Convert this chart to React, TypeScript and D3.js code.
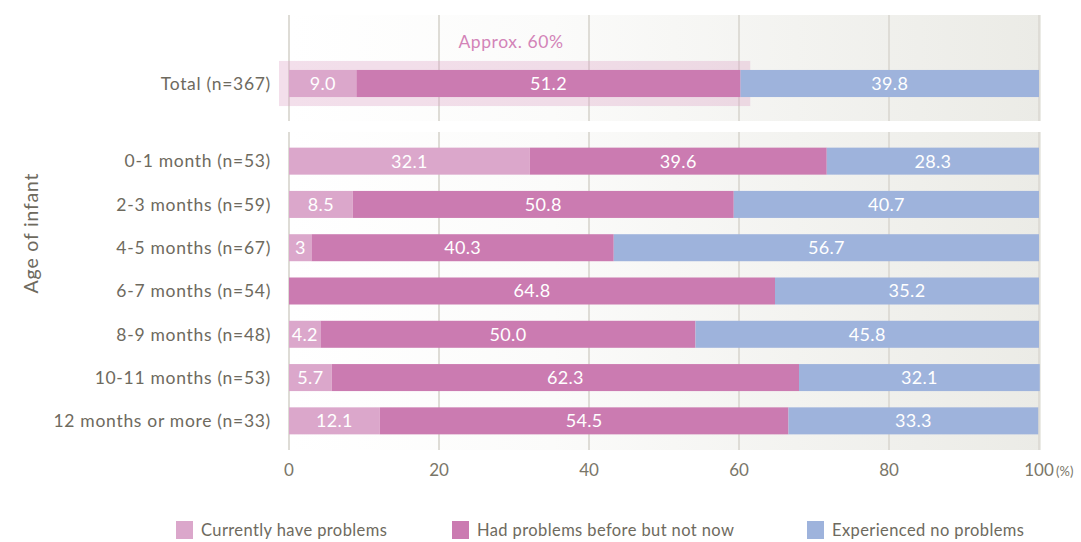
import React from "react";
import * as d3 from "d3";

const totalCategory = "Total (n=367)";
const ageCategories = [
  "0-1 month (n=53)",
  "2-3 months (n=59)",
  "4-5 months (n=67)",
  "6-7 months (n=54)",
  "8-9 months (n=48)",
  "10-11 months (n=53)",
  "12 months or more (n=33)",
];
const seriesNames = ["Currently have problems", "Had problems before but not now", "Experienced no problems"];
const totalValues = [9.0, 51.2, 39.8];
const totalLabels = ["9.0", "51.2", "39.8"];
const currentValues = [32.1, 8.5, 3, 0, 4.2, 5.7, 12.1];
const currentLabels = ["32.1", "8.5", "3", "", "4.2", "5.7", "12.1"];
const beforeValues = [39.6, 50.8, 40.3, 64.8, 50.0, 62.3, 54.5];
const beforeLabels = ["39.6", "50.8", "40.3", "64.8", "50.0", "62.3", "54.5"];
const noneValues = [28.3, 40.7, 56.7, 35.2, 45.8, 32.1, 33.3];
const noneLabels = ["28.3", "40.7", "56.7", "35.2", "45.8", "32.1", "33.3"];
const xTicks = [0, 20, 40, 60, 80, 100];
const highlightValue = 61.5;
const highlightText = "Approx. 60%";

const COLORS = ["#dba7cb", "#cb7bb1", "#9eb3dc"];
const FONT = "Lato, 'Open Sans', sans-serif";

export default function App() {
  const W = 1081, H = 542;
  const x = d3.scaleLinear().domain([0, 100]).range([289, 1039]);
  const yTop = d3.scaleBand().domain([totalCategory]).range([61.3, 105.7]).paddingInner(0.39).paddingOuter(0.195);
  const yAge = d3.scaleBand().domain(ageCategories).range([139.5, 442.5]).paddingInner(0.376).paddingOuter(0.188);

  const rows = [
    { cat: totalCategory, vals: totalValues, labels: totalLabels, y: yTop(totalCategory)!, h: yTop.bandwidth() },
    ...ageCategories.map((c, i) => ({
      cat: c,
      vals: [currentValues[i], beforeValues[i], noneValues[i]],
      labels: [currentLabels[i], beforeLabels[i], noneLabels[i]],
      y: yAge(c)!,
      h: yAge.bandwidth(),
    })),
  ];

  const panels = [
    { y0: 15, y1: 121 },
    { y0: 132, y1: 450 },
  ];

  return (
    <svg width={W} height={H} style={{ position: "absolute", left: 0, top: 0, fontFamily: FONT }}>
      <defs>
        <linearGradient id="bg" x1="0" x2="1" y1="0" y2="0">
          <stop offset="0" stopColor="#ffffff" />
          <stop offset="0.35" stopColor="#fbfbfa" />
          <stop offset="1" stopColor="#ebebe6" />
        </linearGradient>
      </defs>
      {panels.map((p, i) => (
        <g key={i}>
          <rect x={x(0)} y={p.y0} width={x(100) - x(0) + 2} height={p.y1 - p.y0} fill="url(#bg)" />
          {xTicks.map((t) => (
            <line key={t} x1={x(t)} x2={x(t)} y1={p.y0} y2={p.y1} stroke="#dedcd6" strokeWidth={2} />
          ))}
        </g>
      ))}
      <rect
        x={279}
        y={yTop(totalCategory)! - 9}
        width={x(highlightValue) - 279}
        height={yTop.bandwidth() + 18}
        fill="#dca4c6"
        opacity={0.35}
      />
      <text x={511} y={48} textAnchor="middle" fontSize={17.5} letterSpacing={0.6} fill="#d384b8">
        {highlightText}
      </text>
      {rows.map((r, ri) => {
        let acc = 0;
        return (
          <g key={ri}>
            {r.vals.map((v, si) => {
              const x0 = x(acc);
              acc += v;
              const x1 = x(acc);
              if (v <= 0) return null;
              return (
                <g key={si}>
                  <rect x={x0} y={r.y} width={x1 - x0} height={r.h} fill={COLORS[si]} />
                  <text
                    x={(x0 + x1) / 2}
                    y={r.y + r.h / 2}
                    dy="0.36em"
                    textAnchor="middle"
                    fontSize={18}
                    letterSpacing={0.3}
                    fill="#ffffff"
                  >
                    {r.labels[si]}
                  </text>
                </g>
              );
            })}
            <text
              x={271}
              y={r.y + r.h / 2}
              dy="0.36em"
              textAnchor="end"
              fontSize={17.5}
              letterSpacing={0.7}
              fill="#6e6a5e"
            >
              {r.cat}
            </text>
          </g>
        );
      })}
      <text
        transform={`translate(38,233) rotate(-90)`}
        textAnchor="middle"
        fontSize={19.5}
        letterSpacing={0.8}
        fill="#6e6a5e"
      >
        Age of infant
      </text>
      {xTicks.map((t) => (
        <text key={t} x={x(t)} y={476} textAnchor="middle" fontSize={17} fill="#7a7668">
          {t}
        </text>
      ))}
      <text x={x(100) + 17} y={476} fontSize={13} fill="#7a7668">(%)</text>
      {seriesNames.map((s, i) => {
        const lx = [176, 452, 807][i];
        return (
          <g key={s}>
            <rect x={lx} y={521} width={17} height={18} fill={COLORS[i]} />
            <text x={lx + 25} y={530} dy="0.36em" fontSize={16.5} letterSpacing={0.4} fill="#6e6a5e">
              {s}
            </text>
          </g>
        );
      })}
    </svg>
  );
}
